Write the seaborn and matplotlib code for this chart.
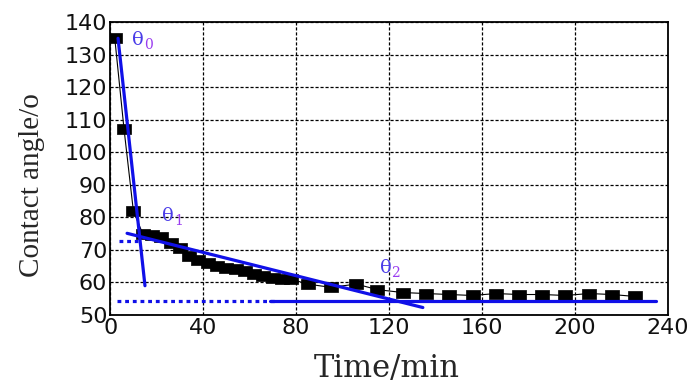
import matplotlib
matplotlib.use("Agg")
import matplotlib.pyplot as plt
import seaborn as sns
import pandas as pd

# Data
time_min = [2, 6, 10, 14, 18, 22, 26, 30, 34, 38, 42, 46, 50, 54, 58, 62, 66, 70, 74, 78,
            85, 95, 106, 115, 126, 136, 146, 156, 166, 176, 186, 196, 206, 216, 226]
contact_angle = [135, 107, 82, 75, 74.5, 74, 72, 70.5, 68, 67, 66, 65, 64.5, 64, 63.5, 62.5, 62, 61.5, 61, 61,
                 59.5, 58.5, 59.5, 57.8, 56.9, 56.6, 56.3, 56.0, 56.6, 56.3, 56.3, 56.0, 56.6, 56.3, 55.7]

# Tangent lines
theta0_x = [3.4, 15]
theta0_y = [135, 59]
theta1_x = [7.3, 134.6]
theta1_y = [75.1, 52.3]
theta2_x = [69, 235]
theta2_y = [54.4, 54.4]
base_dot_x = [3, 72]
base_dot_y = [54.4, 54.4]
short_dot_x = [4, 12]
short_dot_y = [72.8, 72.8]

label_sub = ["0", "1", "2"]
label_x = [9.5, 22.5, 116]
label_y = [134.5, 80.5, 64.5]

x_ticks = [0, 40, 80, 120, 160, 200, 240]
y_ticks = [50, 60, 70, 80, 90, 100, 110, 120, 130, 140]

sns.set_style("white")
plt.rcParams["font.family"] = ["DejaVu Sans"]

fig = plt.figure(figsize=(6.97, 3.83), dpi=100)
ax = fig.add_axes([0.158, 0.1775, 0.8, 0.765])

wide_square = [(-1.35, -1), (1.35, -1), (1.35, 1), (-1.35, 1), (-1.35, -1)]

df = pd.DataFrame({"t": time_min, "angle": contact_angle})
sns.lineplot(data=df, x="t", y="angle", ax=ax, color="black", linewidth=0.8,
             marker=wide_square, markersize=9.5, markeredgecolor="black",
             markerfacecolor="black", markeredgewidth=0.5)

blue = "#1010e8"
sns.lineplot(x=theta0_x, y=theta0_y, ax=ax, color=blue, linewidth=2.3)
sns.lineplot(x=theta1_x, y=theta1_y, ax=ax, color=blue, linewidth=2.3)
sns.lineplot(x=theta2_x, y=theta2_y, ax=ax, color=blue, linewidth=2.3)
ax.plot(base_dot_x, base_dot_y, color=blue, linewidth=2.3, linestyle=(0, (1.2, 1.2)))
ax.plot(short_dot_x, short_dot_y, color=blue, linewidth=2.3, linestyle=(0, (1.2, 1.2)))

for sub, lx, ly in zip(label_sub, label_x, label_y):
    ax.text(lx, ly, "θ", color="#4a3ce8", fontsize=14, family=["DejaVu Serif"],
            ha="left", va="center")
    ax.annotate(sub, xy=(lx, ly), xytext=(8.5, -4), textcoords="offset points",
                color="#9a3cf0", fontsize=10, family=["DejaVu Serif"],
                ha="left", va="center")

ax.set_xlim(0, 240)
ax.set_ylim(50, 140)
ax.set_xticks(x_ticks)
ax.set_yticks(y_ticks)
ax.tick_params(axis="both", labelsize=16, length=0, pad=2, labelcolor="#111111")

ax.grid(True, color="black", linestyle=(0, (2.5, 1.5)), linewidth=0.9)
for s in ax.spines.values():
    s.set_color("black")
    s.set_linewidth(1.3)

ax.set_xlabel("Time/min", fontsize=22, family=["DejaVu Serif"])
ax.set_ylabel("Contact angle/o", fontsize=21, family=["Liberation Serif"])
ax.xaxis.set_label_coords(0.496, -0.13)
ax.yaxis.set_label_coords(-0.116, 0.444)

fig.savefig("out.png", dpi=100)
